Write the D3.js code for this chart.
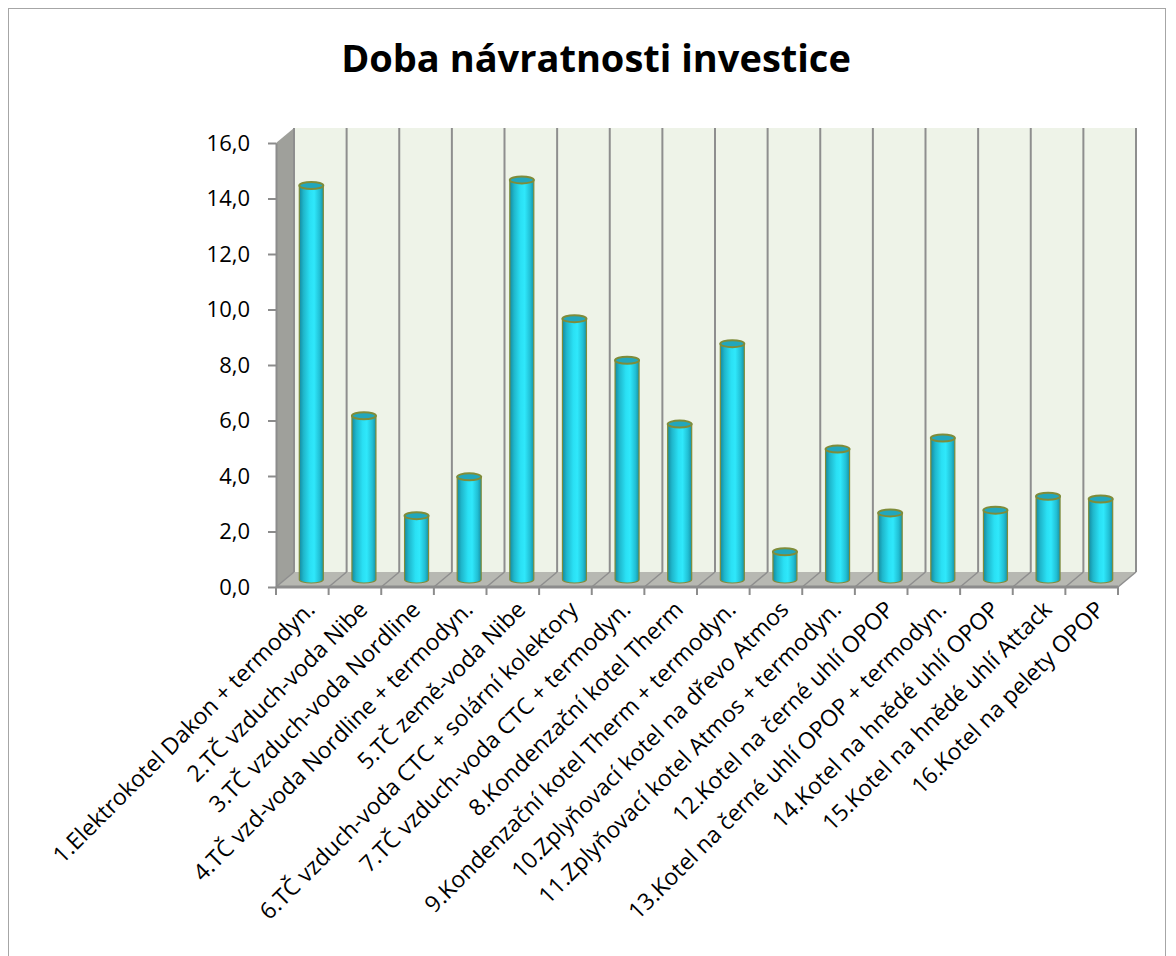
<!DOCTYPE html>
<html>
<head>
<meta charset="utf-8">
<script src="https://cdn.jsdelivr.net/npm/d3@7"></script>
<style>
  body { margin: 0; background: #fff; }
  svg { display: block; }
  text { font-family: "Open Sans", sans-serif; fill: #000; }
</style>
</head>
<body>
<div id="chart"></div>
<script>
var title = "Doba návratnosti investice";

var categories = [
  "1.Elektrokotel Dakon + termodyn.",
  "2.TČ vzduch-voda Nibe",
  "3.TČ vzduch-voda Nordline",
  "4.TČ vzd-voda Nordline + termodyn.",
  "5.TČ země-voda Nibe",
  "6.TČ vzduch-voda CTC + solární kolektory",
  "7.TČ vzduch-voda CTC + termodyn.",
  "8.Kondenzační kotel Therm",
  "9.Kondenzační kotel Therm + termodyn.",
  "10.Zplyňovací kotel na dřevo Atmos",
  "11.Zplyňovací kotel Atmos + termodyn.",
  "12.Kotel na černé uhlí OPOP",
  "13.Kotel na černé uhlí OPOP + termodyn.",
  "14.Kotel na hnědé uhlí OPOP",
  "15.Kotel na hnědé uhlí Attack",
  "16.Kotel na pelety OPOP"
];

var values = [14.2, 5.9, 2.3, 3.7, 14.4, 9.4, 7.9, 5.6, 8.5, 1.0, 4.7, 2.4, 5.1, 2.5, 3.0, 2.9];

var yTicks = [0, 2, 4, 6, 8, 10, 12, 14, 16];

var width = 1176, height = 956;
var plot = { left: 276, right: 1118, top: 143, bottom: 587 };
var depth = { dx: 18, dy: -15 };
var barWidth = 24, capRy = 3.5;

var x = d3.scaleBand().domain(categories).range([plot.left, plot.right]).padding(0);
var y = d3.scaleLinear().domain([0, 16]).range([plot.bottom, plot.top]);

var fmt = function (d) { return d3.format(".1f")(d).replace(".", ","); };

var svg = d3.select("#chart").append("svg")
  .attr("width", width)
  .attr("height", height);

var defs = svg.append("defs");
var grad = defs.append("linearGradient").attr("id", "cyl")
  .attr("x1", "0%").attr("x2", "100%").attr("y1", "0%").attr("y2", "0%");
[[0, "#158a9f"], [0.18, "#1fb7cc"], [0.45, "#2ae0f4"], [0.62, "#2fe8fb"], [0.85, "#21bfd4"], [1, "#1792a7"]]
  .forEach(function (s) {
    grad.append("stop").attr("offset", s[0]).attr("stop-color", s[1]);
  });

// chart border
svg.append("rect")
  .attr("x", 8.5).attr("y", 8.5)
  .attr("width", 1157).attr("height", 970)
  .attr("fill", "none").attr("stroke", "#a6a6a6").attr("stroke-width", 1);

// title
svg.append("text")
  .attr("x", 596).attr("y", 72)
  .attr("text-anchor", "middle")
  .style("font-weight", "bold")
  .style("font-size", "38px")
  .text(title);

var x0 = plot.left, x1 = plot.right, y0 = y(0), y16 = y(16);
var dx = depth.dx, dy = depth.dy;

// back wall
svg.append("polygon")
  .attr("points", [[x0 + dx, y16 + dy], [x1 + dx, y16 + dy], [x1 + dx, y0 + dy], [x0 + dx, y0 + dy]].join(" "))
  .attr("fill", "#eef3e8");

// left wall
svg.append("polygon")
  .attr("points", [[x0, y16], [x0 + dx, y16 + dy], [x0 + dx, y0 + dy], [x0, y0]].join(" "))
  .attr("fill", "#9fa09b");

// floor
svg.append("polygon")
  .attr("points", [[x0, y0], [x1, y0], [x1 + dx, y0 + dy], [x0 + dx, y0 + dy]].join(" "))
  .attr("fill", "#b7b8b2");

var bounds = categories.map(function (c) { return x(c); }).concat([x1]);

// back wall gridlines (category boundaries)
svg.append("g").selectAll("line")
  .data(bounds)
  .enter().append("line")
  .attr("x1", function (d) { return d + dx; })
  .attr("x2", function (d) { return d + dx; })
  .attr("y1", y16 + dy)
  .attr("y2", y0 + dy)
  .attr("stroke", "#8e8e8e").attr("stroke-width", 2);

// floor diagonals
svg.append("g").selectAll("line")
  .data(bounds)
  .enter().append("line")
  .attr("x1", function (d) { return d; })
  .attr("y1", y0)
  .attr("x2", function (d) { return d + dx; })
  .attr("y2", y0 + dy)
  .attr("stroke", "#8e8e8e").attr("stroke-width", 1.5);

// front edge
svg.append("line")
  .attr("x1", x0).attr("x2", x1).attr("y1", y0).attr("y2", y0)
  .attr("stroke", "#8c8c8c").attr("stroke-width", 3);

// category ticks
svg.append("g").selectAll("line")
  .data(bounds)
  .enter().append("line")
  .attr("x1", function (d) { return d; })
  .attr("x2", function (d) { return d; })
  .attr("y1", y0)
  .attr("y2", y0 + 8)
  .attr("stroke", "#8c8c8c").attr("stroke-width", 2);

// y axis
var yAxis = svg.append("g")
  .attr("transform", "translate(" + x0 + ",0)")
  .call(d3.axisLeft(y).tickValues(yTicks).tickFormat(fmt).tickSize(8).tickSizeOuter(0).tickPadding(18));
yAxis.select(".domain").attr("stroke", "#8c8c8c").attr("stroke-width", 2);
yAxis.selectAll(".tick line").attr("stroke", "#8c8c8c").attr("stroke-width", 2);
yAxis.selectAll(".tick text")
  .style("font-family", "'Open Sans', sans-serif")
  .style("font-size", "22px")
  .attr("fill", "#000");

// bars (cylinders)
var bars = svg.append("g").selectAll("g")
  .data(values)
  .enter().append("g");

function cx(d, i) { return x(categories[i]) + x.bandwidth() / 2 + dx / 2; }

bars.append("path")
  .attr("d", function (d, i) {
    var c = cx(d, i), l = c - barWidth / 2, r = c + barWidth / 2;
    var top = y(d) + dy / 2, bot = y0 + dy / 2;
    return "M" + l + "," + top + "L" + l + "," + bot +
      "A" + barWidth / 2 + "," + capRy + " 0 0 0 " + r + "," + bot +
      "L" + r + "," + top + "Z";
  })
  .attr("fill", "url(#cyl)")
  .attr("stroke", "#7f8c3a").attr("stroke-width", 1.2);

bars.append("ellipse")
  .attr("cx", cx)
  .attr("cy", function (d) { return y(d) + dy / 2; })
  .attr("rx", barWidth / 2)
  .attr("ry", capRy)
  .attr("fill", "#22a7bc")
  .attr("stroke", "#7f8c3a").attr("stroke-width", 2);

// category labels
svg.append("g").selectAll("text")
  .data(categories)
  .enter().append("text")
  .attr("text-anchor", "end")
  .attr("transform", function (d) {
    return "translate(" + (x(d) + x.bandwidth() / 2 + 14) + "," + (y0 + 24) + ") rotate(-45)";
  })
  .style("font-size", "23px")
  .text(function (d) { return d; });
</script>
</body>
</html>
